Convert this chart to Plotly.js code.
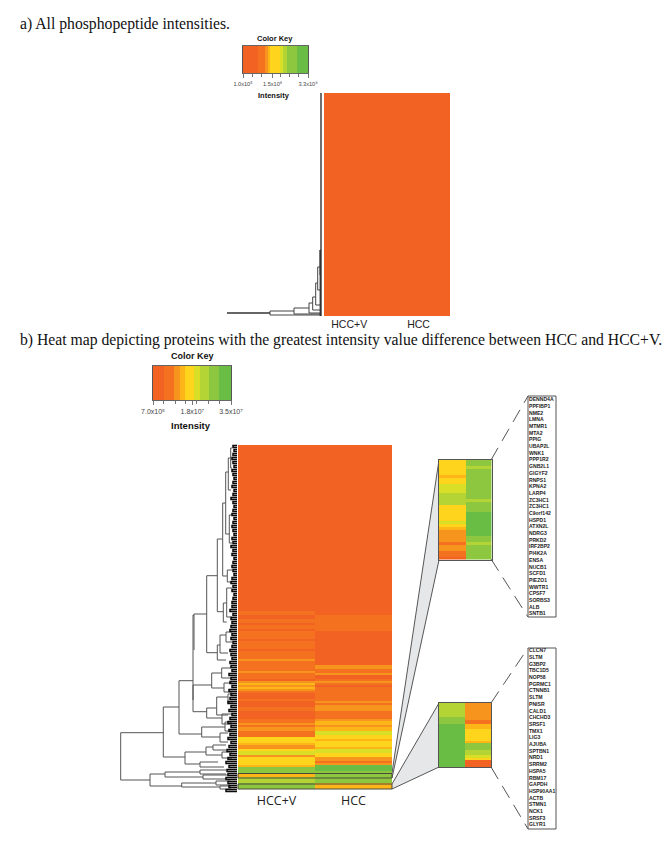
<!DOCTYPE html>
<html><head><meta charset="utf-8">
<script src="https://cdn.plot.ly/plotly-3.0.1.min.js"></script>
<style>html,body{margin:0;padding:0;background:#fff}#c{width:666px;height:843px}</style>
</head><body><div id="c"></div>
<script>
// Intensity levels shown by the palette (0 = lowest, 8 = highest)
const levelColors = ['#F26223','#F4721F','#F7941E','#FDB518','#FFD41D','#D9DF27','#B4D334','#8DC63F','#69BD45'];
const columns = ['HCC+V','HCC'];

// Color keys
const keyAEdges = [1e5,7.7e8,1.11e9,1.25e9,1.37e9,1.88e9,2.05e9,2.22e9,2.74e9,3.3e9];
const keyBEdges = [7e5,5.4e6,1.01e7,1.27e7,1.49e7,1.86e7,2.15e7,2.52e7,2.96e7,3.5e7];
const keyLevels = [0,1,2,3,4,5,6,7,8];
const keyATicks = [1e5,1.5e9,3.3e9];
const keyATickText = ['1.0x10⁵','1.5x10⁸','3.3x10⁹'];
const keyAMinor = [4.7e8,9.4e8,1.89e9,2.36e9,2.83e9];
const keyBTicks = [7e5,1.8e7,3.5e7];
const keyBTickText = ['7.0x10⁵','1.8x10⁷','3.5x10⁷'];
const keyBMinor = [5.5e6,1.04e7,1.5e7,2.0e7,2.5e7,3.0e7];

// Panel a heat map: uniformly lowest level
const panelARows = [[0,0],[0,0],[0,0],[0,0]];

// Panel b heat map, one value per row, top to bottom
const panelBHCCV = [
0,0,0,0,0,0,0,0,0,0,0,0,0,0,0,0,0,0,0,0,0,0,0,0,0,0,0,0,0,0,0,0,0,0,0,0,0,0,0,0,
0,0,0,0,0,0,0,0,0,0,0,0,0,0,0,0,0,0,0,0,0,0,0,0,0,0,0,0,0,0,0,0,0,0,0,0,0,0,0,0,0,0,
0,1,1,0,0,1,1,0,1,1,0,1,1,1,1,0,1,1,1,1,0,1,1,1,1,2,1,1,1,1,1,2,1,1,1,0,2,3,2,3,2,
1,0,0,0,1,0,0,0,1,1,0,0,0,0,1,1,2,1,2,2,1,1,1,4,4,4,3,2,2,4,5,5,2,4,4,4,4,3,7,7,7,
3,3,6,6,6,7,7,7,7];
const panelBHCC = [
0,0,0,0,0,0,0,0,0,0,0,0,0,0,0,0,0,0,0,0,0,0,0,0,0,0,0,0,0,0,0,0,0,0,0,0,0,0,0,0,
0,0,0,0,0,0,0,0,0,0,0,0,0,0,0,0,0,0,0,0,0,0,0,0,0,0,0,0,0,0,0,0,0,0,0,0,0,0,0,0,0,0,
0,0,0,1,1,1,1,1,1,1,1,0,0,0,0,0,0,0,0,0,0,0,0,0,0,0,0,0,2,2,1,1,2,0,0,1,2,1,0,1,1,
1,1,1,1,1,2,1,2,2,2,1,1,1,1,2,3,3,2,3,3,5,5,4,4,3,4,4,4,3,5,5,4,4,2,2,1,2,8,8,8,
7,7,7,7,7,7,3,3,3];

// Magnified rows, with the proteins they stand for
const insetAGenes = ['DENND4A','PPFIBP1','NME2','LMNA','MTMR1','MTA2','PPIG','UBAP2L','WNK1','PPP1R2','GNB2L1','GIGYF2','RNPS1','KPNA2','LARP4','ZC3HC1','ZC3HC1','C9orf142','HSPD1','ATXN2L','NDRG3','PRKD2','IRF2BP2','PI4K2A','ENSA','NUCB1','SCFD1','PIEZO1','WWTR1','CPSF7','SORBS3','ALB','SNTB1'];
const insetAHCCV = [4,4,4,4,4,3,4,4,5,5,5,6,6,6,6,4,4,4,4,4,5,4,3,2,2,2,2,1,2,2,1,1,0];
const insetAHCC  = [7,7,6,7,7,7,7,7,7,7,7,7,7,6,7,7,7,8,8,8,8,8,8,8,8,7,7,6,7,7,7,7,7];
const insetBGenes = ['CLCN7','SLTM','G3BP2','TBC1D5','NOP58','PGRMC1','CTNNB1','SLTM','PNISR','CALD1','CHCHD3','SRSF1','TMX1','LIG3','AJUBA','SPTBN1','NRD1','SRRM2','HSPA5','RBM17','GAPDH','HSP90AA1','ACTB','STMN1','NCK1','SRSF3','GLYR1'];
const insetBHCCV = [6,6,6,6,6,6,7,7,7,8,8,8,8,8,8,8,8,8,8,8,8,8,8,8,8,8,8];
const insetBHCC  = [2,2,2,2,2,2,2,1,1,3,3,4,4,4,4,4,3,7,7,7,6,6,5,4,0,0,0];

// Dendrograms: each bracket is [left x, top y, top end x, bottom y, bottom end x]
const dendroA = [
 [270,311,294,315,320],[294,308,309,314,320],[309,303,312.7,313,320],[312.7,297,315.7,310,320],
 [315.7,283,317.7,305,320],[317.7,267,320,290,320],[320,250,321,275,321]];
const dendroAStem = [[227,313,270,313],[321,93,321,316],[320.3,250,320.3,316]];
const dendroB = [
 [120.7,732.7,163.3,780,150],[163.3,707,179,757,185],[179,680.7,193,734,201.7],
 [193,615,194,700,193],[194,614,206.7,650,194],[206.7,575.7,217.3,652.7,217.3],
 [217.3,539,222.7,611.7,223.3],[222.7,503,225.7,576,227.3],[225.7,472,228.3,534,229.3],
 [228.3,458,230.7,490,231],[230.7,448,232,468,232],[229.3,515,232,543,232],[227.3,570,232,582,232],
 [223.3,603,226.7,622,226.7],[226.7,588,232,617,232],[217.3,645,220,660,226],[220,635,226,653,228],
 [226,632,232,642,232],[193,685,211.7,711.7,206.7],[211.7,673,221.7,688,224],[221.7,668,231,678,231],
 [224,683,232,692,232],[206.7,708,216.7,718,222],[216.7,697,228,715,228],[228,694,233,703,233],
 [222,714,232,724,232],[201.7,727,225,737,220],[225,722,232,731,232],[220,733,228,742,228],
 [185,752,206,764,200],[206,747,213,755,222],[213,745,226,750,226],[222,752,232,758,232],
 [200,762,218,767,224],[150,774,165,786,181.7],[165,772,200,777,203],[200,770,226,774,226],
 [203,775,228,779,226],[181.7,783,216,787,220],[216,781,230,785,230],[220,786,231,789,231]];
// Leftmost leaf reach of the fine clusters, every 4 rows of 2 px from the top of the map
const leafStart = [
 233,234,233,232,233,234,232,233,234,233,232,234,233,231,233,234,233,232,234,233,
 232,233,234,232,233,231,233,232,234,233,232,233,234,232,231,233,232,234,233,232,
 232,230,233,231,232,231,230,232,231,233,232,230,231,232,230,231,232,229,231,230,
 232,229,231,230,228,231,229,232,230,228,231,229,230,228,231,229,227,230,228,226,
 229,227,228,226,228,229,226];

const byRow = (a,b)=>a.map((v,i)=>[v,b[i]]);
const dx = (a,b)=>[a/666,b/666];
const dy = (t,b)=>[1-b/843,1-t/843];
const colorscale = levelColors.map((c,i)=>[i/8,c]);
const base = {type:'heatmap',colorscale,zmin:0,zmax:8,showscale:false,hoverinfo:'skip',xgap:0,ygap:0};
function brackets(list){
  const x=[],y=[];
  list.forEach(b=>{x.push(b[2],b[0],b[0],b[4],null);y.push(b[1],b[1],b[3],b[3],null);});
  return {x,y};
}
function segs(list){
  const x=[],y=[];
  list.forEach(s=>{x.push(s[0],s[2],null);y.push(s[1],s[3],null);});
  return {x,y};
}
function leaves(){
  const list=[];
  leafStart.forEach((v,i)=>{const y=445+4*i;list.push([v,y+0.5,237,y+2.5,237]);});
  return list;
}
const line=(d,color,width,extra)=>Object.assign({type:'scatter',mode:'lines',x:d.x,y:d.y,xaxis:'x',yaxis:'y',hoverinfo:'skip',showlegend:false,line:{color,width}},extra||{});
const wedgeA={x:[392,439,439,392,392],y:[773,460,560,778,773]};
const wedgeB={x:[392,439,439,392,392],y:[784,703,767,789,784]};
const edges={x:[392,439,null,392,439,null,392,439,null,392,439],y:[773,460,null,778,560,null,784,703,null,789,767]};
const callA={x:[491,528,null,491,528],y:[460,396,null,559,617]};
const callB={x:[491,528,null,491,528],y:[703,648,null,767,829]};
const genes=(names,top,step)=>({type:'scatter',mode:'text',x:names.map(()=>529),y:names.map((_,i)=>top+step*i),text:names,
  textposition:'middle right',cliponaxis:false,textfont:{family:'Liberation Sans',size:5.1,weight:'bold',color:'#1a1a1a'},xaxis:'x',yaxis:'y',hoverinfo:'skip',showlegend:false});

const data=[
 line(wedgeA,'rgba(0,0,0,0)',0,{fill:'toself',fillcolor:'#E6E7E8'}),
 line(wedgeB,'rgba(0,0,0,0)',0,{fill:'toself',fillcolor:'#E6E7E8'}),
 line(edges,'#444',0.9),
 line(callA,'#555',1,{line:{color:'#555',width:1,dash:'14px,8px'}}),
 line(callB,'#555',1,{line:{color:'#555',width:1,dash:'14px,8px'}}),
 line(brackets(dendroA),'#444',1),
 line(segs(dendroAStem),'#333',1.4),
 line(brackets(dendroB),'#555',1),
 line(brackets(leaves()),'#0a0a0a',1.5),
 genes(insetAGenes,400,6.69),
 genes(insetBGenes,651,6.7),
 Object.assign({},base,{x:keyAEdges,y:[0,1],z:[keyLevels],xaxis:'x2',yaxis:'y2'}),
 Object.assign({},base,{x:[0,1],z:panelARows,xaxis:'x3',yaxis:'y3'}),
 Object.assign({},base,{x:keyBEdges,y:[0,1],z:[keyLevels],xaxis:'x4',yaxis:'y4'}),
 Object.assign({},base,{x:columns,z:byRow(panelBHCCV,panelBHCC),xaxis:'x5',yaxis:'y5'}),
 Object.assign({},base,{x:columns,y:insetAGenes.map((_,i)=>i),z:byRow(insetAHCCV,insetAHCC),xaxis:'x6',yaxis:'y6'}),
 Object.assign({},base,{x:columns,y:insetBGenes.map((_,i)=>i),z:byRow(insetBHCCV,insetBHCC),xaxis:'x7',yaxis:'y7'})
];
const hidden={visible:false,fixedrange:true};
const ann=(x,y,text,size,family,extra)=>Object.assign({x,y,text,xref:'x',yref:'y',showarrow:false,borderpad:0,font:{size,family,color:'#111'},xanchor:'center',yanchor:'middle'},extra||{});
const key=(d,r,ticks,text,minor,size)=>({domain:d,range:r,tickmode:'array',tickvals:ticks,ticktext:text,ticks:'outside',ticklen:4,tickwidth:0.8,tickcolor:'#555',
  minor:{tickmode:'array',tickvals:minor,ticks:'outside',ticklen:3,tickwidth:0.8,tickcolor:'#555',showgrid:false},
  ticklabelstandoff:1,showline:true,mirror:true,linecolor:'#666',linewidth:1,showgrid:false,zeroline:false,tickangle:0,tickfont:{size,family:'Liberation Sans',color:'#444'},fixedrange:true});
const boxed={showline:true,mirror:true,linecolor:'#555',linewidth:1,showticklabels:false,ticks:'',showgrid:false,zeroline:false,fixedrange:true};
const rect=(x0,y0,x1,y1,c)=>({type:'rect',xref:'x',yref:'y',x0,y0,x1,y1,line:{color:c,width:1},fillcolor:'rgba(0,0,0,0)',layer:'above'});
const layout={
 width:666,height:843,margin:{l:0,r:0,t:0,b:0},paper_bgcolor:'#fff',plot_bgcolor:'rgba(0,0,0,0)',showlegend:false,
 xaxis:Object.assign({domain:[0,1],range:[0,666]},hidden),
 yaxis:Object.assign({domain:[0,1],range:[843,0]},hidden),
 xaxis2:Object.assign(key(dx(243,308),[1e5,3.3e9],keyATicks,keyATickText,keyAMinor,5.6),{anchor:'y2'}),
 yaxis2:Object.assign({domain:dy(46,73),range:[0,1],anchor:'x2'},boxed),
 xaxis3:{domain:dx(324,450),range:[-0.5,1.5],anchor:'y3',tickmode:'array',tickvals:[-0.1,1],ticktext:columns,ticks:'',showgrid:false,zeroline:false,tickfont:{size:10.5,family:'Liberation Sans',color:'#222'},ticklabelstandoff:0,fixedrange:true},
 yaxis3:{domain:dy(93,316),range:[3.5,-0.5],anchor:'x3',visible:false,fixedrange:true},
 xaxis4:Object.assign(key(dx(153,231),[7e5,3.5e7],keyBTicks,keyBTickText,keyBMinor,7),{anchor:'y4'}),
 yaxis4:Object.assign({domain:dy(366,400),range:[0,1],anchor:'x4'},boxed),
 xaxis5:{domain:dx(238,392),type:'category',anchor:'y5',ticks:'',showgrid:false,zeroline:false,tickfont:{size:12.5,family:'Open Sans',color:'#222'},ticklabelstandoff:2,fixedrange:true},
 yaxis5:{domain:dy(445,789),range:[171.5,-0.5],anchor:'x5',visible:false,fixedrange:true},
 xaxis6:Object.assign({domain:dx(439,491.5),type:'category',anchor:'y6'},boxed),
 yaxis6:Object.assign({domain:dy(460,559.5),range:[32.5,-0.5],anchor:'x6'},boxed),
 xaxis7:Object.assign({domain:dx(439,491),type:'category',anchor:'y7'},boxed),
 yaxis7:Object.assign({domain:dy(703,767),range:[26.5,-0.5],anchor:'x7'},boxed),
 shapes:[rect(528,396,556,617,'#555'),rect(528,648,556,829,'#555'),rect(238,773.5,392,778,'#4a4a3a'),rect(238,784,392,789,'#4a4a3a')],
 annotations:[
  ann(19,24,'a) All phosphopeptide intensities.',15.7,'Liberation Serif',{xanchor:'left'}),
  ann(19,340,'b) Heat map depicting proteins with the greatest intensity value difference between HCC and HCC+V.',15.7,'Liberation Serif',{xanchor:'left'}),
  ann(275,38.5,'<b>Color Key</b>',7.5,'Liberation Sans'),
  ann(274,95.5,'<b>Intensity</b>',7.5,'Liberation Sans'),
  ann(192,356,'<b>Color Key</b>',9,'Liberation Sans'),
  ann(191,425,'<b>Intensity</b>',9.5,'Liberation Sans')
 ]
};
Plotly.newPlot('c',data,layout,{staticPlot:true,displayModeBar:false});
</script></body></html>
